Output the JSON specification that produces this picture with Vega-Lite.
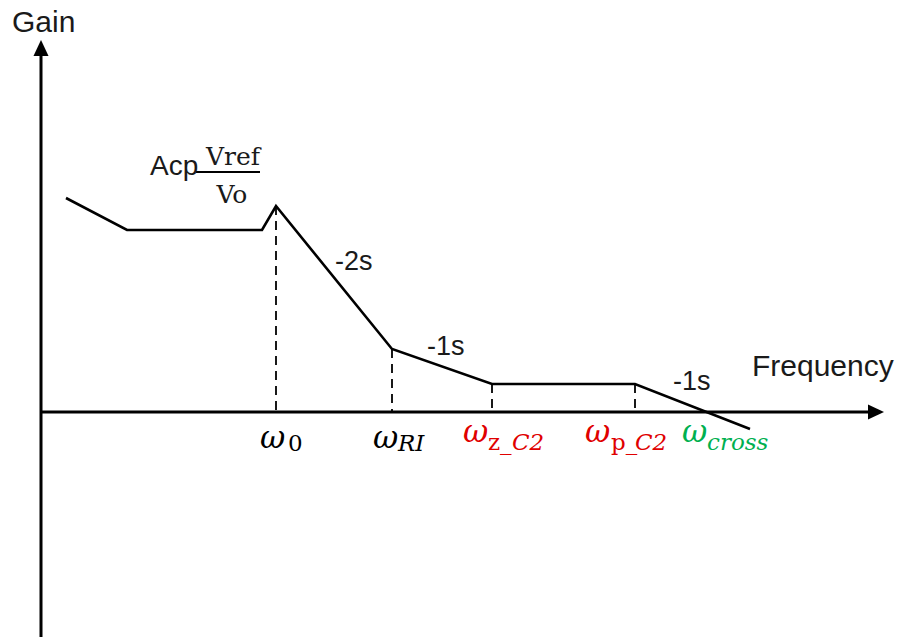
{
  "$schema": "https://vega.github.io/schema/vega-lite/v6.json",
  "description": "Asymptotic gain sketch of the compensated loop: break frequencies and slopes",
  "width": 901,
  "height": 639,
  "padding": 0,
  "autosize": {"type": "fit", "contains": "padding"},
  "config": {"view": {"stroke": null}},
  "datasets": {
    "axes": [
      {"x": 0, "y": -225, "x2": 0, "y2": 358},
      {"x": 0, "y": 0, "x2": 829, "y2": 0}
    ],
    "tipUp": [{"x": 0, "y": 356}],
    "tipRight": [{"x": 827, "y": 0}],
    "gain": [
      {"i": 0, "f": 25, "g": 214},
      {"i": 1, "f": 86, "g": 182},
      {"i": 2, "f": 221, "g": 182},
      {"i": 3, "f": 235, "g": 206},
      {"i": 4, "f": 351, "g": 63},
      {"i": 5, "f": 451, "g": 28},
      {"i": 6, "f": 594, "g": 28},
      {"i": 7, "f": 709, "g": -17}
    ],
    "breaks": [
      {"f": 235, "g": 206},
      {"f": 351, "g": 63},
      {"f": 451, "g": 28},
      {"f": 594, "g": 28}
    ],
    "fraction": [
      {"x": 155, "x2": 219, "y": 240}
    ],
    "titles": [
      {"t": "Gain", "x": -29, "y": 380},
      {"t": "Frequency", "x": 711, "y": 36}
    ],
    "slopes": [
      {"t": "-2s", "x": 294, "y": 142},
      {"t": "-1s", "x": 386, "y": 57},
      {"t": "-1s", "x": 632, "y": 22}
    ],
    "formula": [
      {"t": "Acp", "x": 109, "y": 237}
    ],
    "ratio": [
      {"t": "Vref", "x": 192, "y": 247},
      {"t": "Vo", "x": 191, "y": 209}
    ],
    "omega": [
      {"t": "ω", "x": 219, "y": -36, "group": "plain"},
      {"t": "ω", "x": 332, "y": -36, "group": "plain"},
      {"t": "ω", "x": 422, "y": -30, "group": "compensator"},
      {"t": "ω", "x": 544, "y": -30, "group": "compensator"},
      {"t": "ω", "x": 641, "y": -30, "group": "crossover"}
    ],
    "subUpright": [
      {"t": "0", "x": 247, "y": -39, "group": "plain"},
      {"t": "z_", "x": 447, "y": -38, "group": "compensator"},
      {"t": "p_", "x": 570, "y": -38, "group": "compensator"}
    ],
    "subItalic": [
      {"t": "RI", "x": 357, "y": -39, "group": "plain"},
      {"t": "C2", "x": 471, "y": -38, "group": "compensator"},
      {"t": "C2", "x": 594, "y": -38, "group": "compensator"},
      {"t": "cross", "x": 666, "y": -38, "group": "crossover"}
    ]
  },
  "layer": [
    {
      "data": {"name": "axes"},
      "mark": {"type": "rule", "color": "black", "strokeWidth": 3},
      "encoding": {
        "x": {"field": "x", "type": "quantitative", "scale": {"domain": [-41, 860], "nice": false, "zero": false}, "axis": null},
        "y": {"field": "y", "type": "quantitative", "scale": {"domain": [-227, 412], "nice": false, "zero": false}, "axis": null},
        "x2": {"field": "x2"},
        "y2": {"field": "y2"}
      }
    },
    {
      "data": {"name": "tipUp"},
      "mark": {"type": "point", "filled": true, "fill": "black", "fillOpacity": 1, "opacity": 1, "size": 1024, "shape": "M-0.47,0L0.47,0L0,-1Z"},
      "encoding": {
        "x": {"field": "x", "type": "quantitative"},
        "y": {"field": "y", "type": "quantitative"}
      }
    },
    {
      "data": {"name": "tipRight"},
      "mark": {"type": "point", "filled": true, "fill": "black", "fillOpacity": 1, "opacity": 1, "size": 1024, "shape": "M0,-0.47L0,0.47L1,0Z"},
      "encoding": {
        "x": {"field": "x", "type": "quantitative"},
        "y": {"field": "y", "type": "quantitative"}
      }
    },
    {
      "data": {"name": "breaks"},
      "mark": {"type": "rule", "color": "black", "strokeWidth": 1.8, "strokeDash": [9, 6]},
      "encoding": {
        "x": {"field": "f", "type": "quantitative"},
        "y": {"field": "g", "type": "quantitative"},
        "y2": {"datum": 0}
      }
    },
    {
      "data": {"name": "gain"},
      "mark": {"type": "line", "color": "black", "strokeWidth": 2.6, "strokeJoin": "miter"},
      "encoding": {
        "x": {"field": "f", "type": "quantitative"},
        "y": {"field": "g", "type": "quantitative"},
        "order": {"field": "i", "type": "quantitative"}
      }
    },
    {
      "data": {"name": "fraction"},
      "mark": {"type": "rule", "color": "black", "strokeWidth": 2},
      "encoding": {
        "x": {"field": "x", "type": "quantitative"},
        "x2": {"field": "x2"},
        "y": {"field": "y", "type": "quantitative"}
      }
    },
    {
      "data": {"name": "titles"},
      "mark": {"type": "text", "align": "left", "baseline": "alphabetic", "font": "Liberation Sans", "fontSize": 30, "color": "#1a1a1a"},
      "encoding": {
        "x": {"field": "x", "type": "quantitative"},
        "y": {"field": "y", "type": "quantitative"},
        "text": {"field": "t"}
      }
    },
    {
      "data": {"name": "slopes"},
      "mark": {"type": "text", "align": "left", "baseline": "alphabetic", "font": "Liberation Sans", "fontSize": 27, "color": "#1a1a1a"},
      "encoding": {
        "x": {"field": "x", "type": "quantitative"},
        "y": {"field": "y", "type": "quantitative"},
        "text": {"field": "t"}
      }
    },
    {
      "data": {"name": "formula"},
      "mark": {"type": "text", "align": "left", "baseline": "alphabetic", "font": "Liberation Sans", "fontSize": 28, "color": "#1a1a1a"},
      "encoding": {
        "x": {"field": "x", "type": "quantitative"},
        "y": {"field": "y", "type": "quantitative"},
        "text": {"field": "t"}
      }
    },
    {
      "data": {"name": "ratio"},
      "mark": {"type": "text", "align": "center", "baseline": "alphabetic", "font": "DejaVu Serif", "fontSize": 25, "color": "#1a1a1a"},
      "encoding": {
        "x": {"field": "x", "type": "quantitative"},
        "y": {"field": "y", "type": "quantitative"},
        "text": {"field": "t"}
      }
    },
    {
      "data": {"name": "omega"},
      "mark": {"type": "text", "align": "left", "baseline": "alphabetic", "font": "DejaVu Serif", "fontStyle": "italic", "fontSize": 31},
      "encoding": {
        "x": {"field": "x", "type": "quantitative"},
        "y": {"field": "y", "type": "quantitative"},
        "text": {"field": "t"},
        "color": {"field": "group", "type": "nominal", "legend": null, "scale": {"domain": ["plain", "compensator", "crossover"], "range": ["#000000", "#e00000", "#00b050"]}}
      }
    },
    {
      "data": {"name": "subUpright"},
      "mark": {"type": "text", "align": "left", "baseline": "alphabetic", "font": "DejaVu Serif", "fontSize": 23},
      "encoding": {
        "x": {"field": "x", "type": "quantitative"},
        "y": {"field": "y", "type": "quantitative"},
        "text": {"field": "t"},
        "color": {"field": "group", "type": "nominal", "legend": null}
      }
    },
    {
      "data": {"name": "subItalic"},
      "mark": {"type": "text", "align": "left", "baseline": "alphabetic", "font": "DejaVu Serif", "fontStyle": "italic", "fontSize": 23},
      "encoding": {
        "x": {"field": "x", "type": "quantitative"},
        "y": {"field": "y", "type": "quantitative"},
        "text": {"field": "t"},
        "color": {"field": "group", "type": "nominal", "legend": null}
      }
    }
  ]
}
